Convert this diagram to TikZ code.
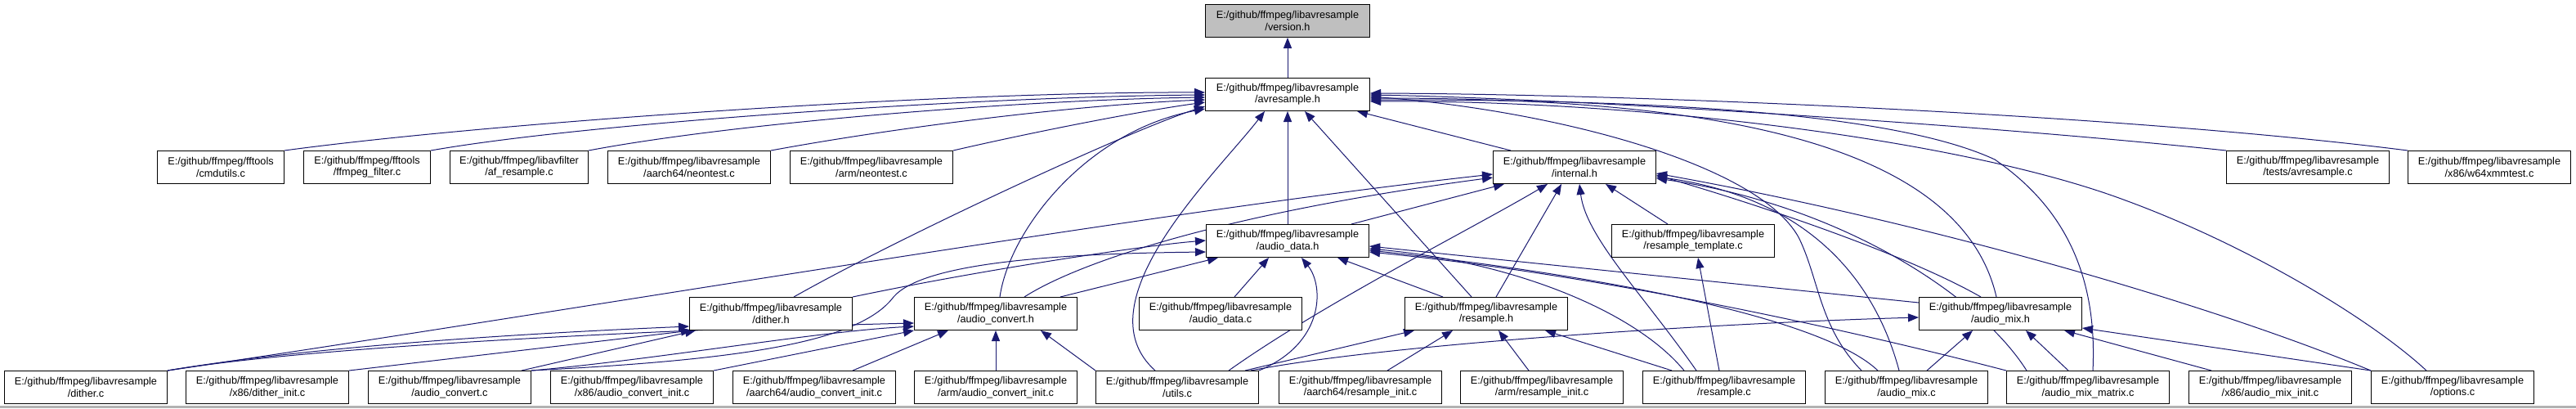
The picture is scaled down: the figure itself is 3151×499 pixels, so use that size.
\documentclass[tikz,border=0pt]{standalone}
\usepackage{fontspec}
\setmainfont{Liberation Sans}
\usetikzlibrary{arrows.meta}
\definecolor{navy}{RGB}{25,25,112}
\definecolor{vgray}{RGB}{191,191,191}
\newcommand\lavr{E:/github/ffmpeg/libavresample}
\pgfdeclarelayer{bg}
\pgfdeclarelayer{paper}
\pgfsetlayers{paper,bg,main}
\tikzset{
  filebox/.style={draw=black, line width=1pt, fill=white, minimum height=40pt, minimum width=199pt,
    inner sep=0pt, align=center, anchor=north west, font=\fontsize{12.7}{14.4}\selectfont},
  inc/.style={draw=navy, line width=1pt, -{Triangle[length=13pt,width=10pt]}},
}
\begin{document}
\begin{tikzpicture}[x=1pt,y=-1pt]
\useasboundingbox (0,0) rectangle (3151,499);
\begin{pgfonlayer}{paper}
\fill[white] (0,0) rectangle (3151,499);
\fill[black!30] (0,496) rectangle (3151,499);
\end{pgfonlayer}
% row 0,1
\node[filebox, fill=vgray, minimum width=201pt] (version) at (1474,5) {\lavr\\/version.h};
\node[filebox, minimum width=201pt] (avres) at (1474,95) {\lavr\\/avresample.h};
% row 2
\node[filebox, minimum width=155pt] (cmdutils) at (192,184) {E:/github/ffmpeg/fftools\\/cmdutils.c};
\node[filebox, minimum width=155pt] (ffilter) at (371,184) {E:/github/ffmpeg/fftools\\/ffmpeg\_filter.c};
\node[filebox, minimum width=169pt] (afres) at (550,184) {E:/github/ffmpeg/libavfilter\\/af\_resample.c};
\node[filebox] (a64neon) at (743,184) {\lavr\\/aarch64/neontest.c};
\node[filebox] (armneon) at (966,184) {\lavr\\/arm/neontest.c};
\node[filebox] (internal) at (1826,184) {\lavr\\/internal.h};
\node[filebox] (testsavr) at (2723,184) {\lavr\\/tests/avresample.c};
\node[filebox] (w64) at (2945,184) {\lavr\\/x86/w64xmmtest.c};
% row 3
\node[filebox] (adatah) at (1475,274) {\lavr\\/audio\_data.h};
\node[filebox] (rtemplate) at (1971,274) {\lavr\\/resample\_template.c};
% row 4
\node[filebox] (ditherh) at (843,363) {\lavr\\/dither.h};
\node[filebox] (aconvh) at (1118,363) {\lavr\\/audio\_convert.h};
\node[filebox] (adatac) at (1393,363) {\lavr\\/audio\_data.c};
\node[filebox] (resampleh) at (1718,363) {\lavr\\/resample.h};
\node[filebox] (amixh) at (2347,363) {\lavr\\/audio\_mix.h};
% row 5
\node[filebox] (ditherc) at (5,453) {\lavr\\/dither.c};
\node[filebox] (x86dither) at (227,453) {\lavr\\/x86/dither\_init.c};
\node[filebox] (aconvc) at (450,453) {\lavr\\/audio\_convert.c};
\node[filebox] (x86aconv) at (673,453) {\lavr\\/x86/audio\_convert\_init.c};
\node[filebox] (a64aconv) at (896,453) {\lavr\\/aarch64/audio\_convert\_init.c};
\node[filebox] (armaconv) at (1118,453) {\lavr\\/arm/audio\_convert\_init.c};
\node[filebox] (utils) at (1340,453) {\lavr\\/utils.c};
\node[filebox] (a64res) at (1564,453) {\lavr\\/aarch64/resample\_init.c};
\node[filebox] (armres) at (1786,453) {\lavr\\/arm/resample\_init.c};
\node[filebox] (resamplec) at (2009,453) {\lavr\\/resample.c};
\node[filebox] (amixc) at (2232,453) {\lavr\\/audio\_mix.c};
\node[filebox] (amixmat) at (2454,453) {\lavr\\/audio\_mix\_matrix.c};
\node[filebox] (x86amix) at (2677,453) {\lavr\\/x86/audio\_mix\_init.c};
\node[filebox] (options) at (2900,453) {\lavr\\/options.c};

\begin{pgfonlayer}{bg}
% to version.h
\draw[inc] (avres.north) -- (version.south);
% to avresample.h, left side
\draw[inc] (cmdutils.north east) .. controls (600,150) and (1150,112) .. ([yshift=-18pt]avres.north west);
\draw[inc] (ffilter.north east) .. controls (720,150) and (1200,118) .. ([yshift=-21pt]avres.north west);
\draw[inc] (afres.north east) .. controls (900,150) and (1250,122) .. ([yshift=-24pt]avres.north west);
\draw[inc] (a64neon.north east) .. controls (1100,155) and (1320,128) .. ([yshift=-27pt]avres.north west);
\draw[inc] (armneon.north east) .. controls (1270,160) and (1400,135) .. ([yshift=-30pt]avres.north west);
\draw[inc] ([xshift=128pt]ditherh.north west) .. controls (1100,290) and (1380,160) .. ([yshift=-35pt]avres.north west);
\draw[inc] ([xshift=105pt]aconvh.north west) .. controls (1235,280) and (1330,160) .. ([yshift=-38pt]avres.north west);
% to avresample.h, bottom
\draw[inc] ([xshift=73pt]utils.north west) .. controls (1320,370) and (1490,210) .. ([xshift=73pt]avres.south west);
\draw[inc] (adatah.north) -- (adatah.north |- avres.south);
\draw[inc] ([xshift=82pt]resampleh.north west) -- ([xshift=122pt]avres.south west);
\draw[inc] ([xshift=22pt]internal.north west) -- ([xshift=186pt]avres.south west);
% to avresample.h, right side
\draw[inc] (testsavr.north west) .. controls (2400,150) and (1900,120) .. ([yshift=-21pt]avres.north east);
\draw[inc] (w64.north west) .. controls (2600,140) and (2000,115) .. ([yshift=-19pt]avres.north east);
\draw[inc] ([xshift=95pt]amixh.north west) .. controls (2395,160) and (2050,120) .. ([yshift=-25pt]avres.north east);
\draw[inc] ([xshift=106pt]amixmat.north west) .. controls (2566,330) and (2520,250) .. (2440,195)
   .. controls (2300,130) and (1950,122) .. ([yshift=-27pt]avres.north east);
\draw[inc] ([xshift=68pt]options.north west) .. controls (2900,390) and (2750,300) .. (2600,245)
   .. controls (2400,170) and (2000,122) .. ([yshift=-29pt]avres.north east);
\draw[inc] ([xshift=45pt]amixc.north west) .. controls (2225,400) and (2225,340) .. (2200,290)
   .. controls (2150,200) and (1900,135) .. ([yshift=-23pt]avres.north east);
% to internal.h
\draw[inc] (ditherc.north east) .. controls (700,380) and (1400,260) .. ([yshift=-29pt]internal.north west);
\draw[inc] ([xshift=135pt]aconvh.north west) .. controls (1320,320) and (1500,260) .. ([yshift=-33pt]internal.north west);
\draw[inc] ([xshift=178pt]adatah.north west) -- ([xshift=14pt]internal.south west);
\draw[inc] ([xshift=163pt]utils.north west) .. controls (1620,370) and (1800,280) .. ([xshift=67pt]internal.south west);
\draw[inc] ([xshift=112pt]resampleh.north west) -- ([xshift=84pt]internal.south west);
\draw[inc] ([xshift=69pt]rtemplate.north west) -- ([xshift=138pt]internal.south west);
\draw[inc] ([xshift=66pt]resamplec.north west) .. controls (2010,360) and (1940,290) .. ([xshift=106pt]internal.south west);
\draw[inc] ([xshift=76pt]amixh.north west) .. controls (2330,310) and (2150,250) .. ([yshift=-30pt]internal.north east);
\draw[inc] ([xshift=91pt]amixc.north west) .. controls (2290,330) and (2200,240) .. ([yshift=-32pt]internal.north east);
\draw[inc] ([xshift=25pt]amixmat.north west) .. controls (2420,360) and (2250,250) .. ([yshift=-34pt]internal.north east);
\draw[inc] (options.north west) .. controls (2700,370) and (2350,270) .. ([yshift=-28pt]internal.north east);
% to audio_data.h
\draw[inc] (ditherh.north east) .. controls (1200,330) and (1400,300) .. ([yshift=-20pt]adatah.north west);
\draw[inc] (aconvc.north east) .. controls (900,440) and (1050,420) .. (1093,363)
   .. controls (1130,320) and (1300,310) .. ([yshift=-34pt]adatah.north west);
\draw[inc] ([xshift=179pt]aconvh.north west) -- ([xshift=15pt]adatah.south west);
\draw[inc] ([xshift=117pt]adatac.north west) -- ([xshift=77pt]adatah.south west);
\draw[inc] (utils.north east) .. controls (1620,420) and (1620,350) .. ([xshift=117pt]adatah.south west);
\draw[inc] ([xshift=47pt]resampleh.north west) -- ([xshift=161pt]adatah.south west);
\draw[inc] ([yshift=-7pt]amixh.north west) -- ([yshift=-27pt]adatah.north east);
\draw[inc] ([xshift=51pt]resamplec.north west) .. controls (2000,380) and (1850,320) .. ([yshift=-30pt]adatah.north east);
\draw[inc] ([xshift=65pt]amixc.north west) .. controls (2220,380) and (1900,330) .. ([yshift=-32pt]adatah.north east);
\draw[inc] (amixmat.north west) .. controls (2250,400) and (1950,335) .. ([yshift=-34pt]adatah.north east);
% to dither.h
\draw[inc] (ditherc.north east) .. controls (400,420) and (700,405) .. ([yshift=-36pt]ditherh.north west);
\draw[inc] (x86dither.north east) -- ([xshift=3pt]ditherh.south west);
\draw[inc] ([xshift=188pt]aconvc.north west) -- ([xshift=8pt]ditherh.south west);
% to audio_convert.h
\draw[inc] (ditherc.north east) .. controls (400,420) and (900,400) .. ([yshift=-32pt]aconvh.north west);
\draw[inc] (aconvc.north east) .. controls (800,440) and (1000,405) .. ([yshift=-36pt]aconvh.north west);
\draw[inc] (x86aconv.north east) -- (aconvh.south west);
\draw[inc] ([xshift=147pt]a64aconv.north west) -- ([xshift=42pt]aconvh.south west);
\draw[inc] (armaconv.north) -- (aconvh.south);
\draw[inc] (utils.north west) -- ([xshift=155pt]aconvh.south west);
% to resample.h
\draw[inc] ([xshift=183pt]utils.north west) -- ([xshift=12pt]resampleh.south west);
\draw[inc] ([xshift=133pt]a64res.north west) -- ([xshift=59pt]resampleh.south west);
\draw[inc] ([xshift=84pt]armres.north west) -- ([xshift=115pt]resampleh.south west);
\draw[inc] ([xshift=36pt]resamplec.north west) -- ([xshift=172pt]resampleh.south west);
% to audio_mix.h
\draw[inc] ([xshift=190pt]utils.north west) .. controls (1700,420) and (2100,395) .. ([yshift=-25pt]amixh.north west);
\draw[inc] ([xshift=125pt]amixc.north west) -- ([xshift=66pt]amixh.south west);
\draw[inc] ([xshift=76pt]amixmat.north west) -- ([xshift=131pt]amixh.south west);
\draw[inc] ([xshift=28pt]x86amix.north west) -- ([xshift=178pt]amixh.south west);
\draw[inc] (options.north west) -- ([yshift=-38pt]amixh.north east);
% to resample_template.c
\draw[inc] ([xshift=94pt]resamplec.north west) -- ([xshift=106pt]rtemplate.south west);
\end{pgfonlayer}
\end{tikzpicture}
\end{document}
